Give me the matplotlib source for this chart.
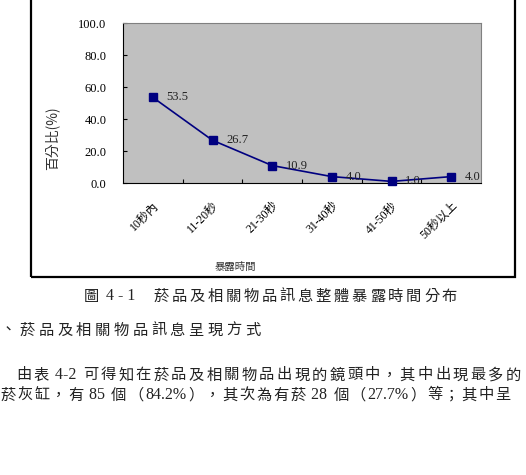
import matplotlib
matplotlib.use('Agg')

import matplotlib.pyplot as plt
from matplotlib.patches import Rectangle

CJK = ['Noto Sans CJK TC', 'DejaVu Sans']
NUM = ['Liberation Serif', 'Noto Sans CJK TC']

W, H = 526, 475

categories = ['10秒內', '11-20秒', '21-30秒', '31-40秒', '41-50秒', '50秒以上']
percent = [53.5, 26.7, 10.9, 4.0, 1.0, 4.0]
yticks = [0, 20, 40, 60, 80, 100]

caption = '圖 4 - 1　菸品及相關物品訊息整體暴露時間分布'
heading = '、菸品及相關物品訊息呈現方式'
body = ['由表 4-2 可得知在菸品及相關物品出現的鏡頭中，其中出現最多的',
        '菸灰缸，有 85 個（84.2%），其次為有菸 28 個（27.7%）等；其中呈']


def spaced_text(fig, x_px, y_px, s, gap=2.5, size=11):
    # scanned page has loose letter spacing, so lay out piece by piece
    r = fig.canvas.get_renderer()
    pieces = []
    buf = ''
    for ch in s:
        if ord(ch) < 128:
            buf += ch
        else:
            if buf:
                pieces.append(buf)
                buf = ''
            pieces.append(ch)
    if buf:
        pieces.append(buf)
    for p in pieces:
        if p == '　':
            x_px += 15
            continue
        fam = NUM if ord(p[0]) < 128 else CJK
        t = fig.text(x_px / W, 1 - y_px / H, p, ha='left', va='center',
                     family=fam, fontsize=size + (0.5 if fam is NUM else 0),
                     color='#222222')
        if p.strip() == '':
            x_px += 4.5 * len(p)
        else:
            x_px += t.get_window_extent(r).width + gap


fig = plt.figure(figsize=(W / 100, H / 100), dpi=100)
fig.patch.set_facecolor('white')

# outer frame around the chart
fig.patches.append(Rectangle((31 / W, 1 - 277 / H), (515 - 31) / W, 0.7,
                             transform=fig.transFigure, fill=False,
                             edgecolor='black', linewidth=1.6))

ax = fig.add_axes([123 / W, 1 - 183 / H, (481 - 123) / W, (183 - 23) / H])
ax.set_facecolor('#c0c0c0')
x = list(range(len(categories)))
ax.plot(x, percent, color='#000080', linewidth=1.2, marker='s',
        markersize=5.5, markerfacecolor='#000080', markeredgecolor='#000080',
        clip_on=False, zorder=3)
for xi, v in zip(x, percent):
    ax.annotate('%.1f' % v, (xi, v), xytext=(10, 0), textcoords='offset points',
                va='center', ha='left', fontsize=9, family=NUM, color='#222222')

ax.set_xlim(-0.5, len(categories) - 0.5)
ax.set_ylim(0, 100)
ax.set_yticks(yticks)
ax.set_yticklabels(['%.1f' % t for t in yticks], family=NUM, fontsize=9)
ax.set_xticks([i + 0.5 for i in x[:-1]])
ax.set_xticklabels([])
ax.set_xticks(x, minor=True)
ax.set_xticklabels(categories, minor=True, rotation=45, ha='right',
                   rotation_mode='anchor', family=NUM, fontsize=8.5)
ax.tick_params(axis='x', which='minor', length=0, pad=12)
ax.tick_params(axis='x', which='major', direction='in', length=3)
ax.tick_params(axis='y', direction='in', length=3, pad=12)
for s in ['top', 'right']:
    ax.spines[s].set_color('#808080')
for s in ['left', 'bottom']:
    ax.spines[s].set_color('black')

fig.text(52 / W, 1 - 138 / H, '百分比(%)', rotation=90, ha='center', va='center',
         family=CJK, fontsize=10, color='#333333')
fig.text(235 / W, 1 - 267 / H, '暴露時間', ha='center', va='center',
         family=CJK, fontsize=7.5, color='#333333')

spaced_text(fig, 84, 296, caption, gap=2.8)
spaced_text(fig, 1, 330, heading, gap=3.5)
spaced_text(fig, 16, 375, body[0], gap=2.35)
spaced_text(fig, 0, 395, body[1], gap=1.8)

fig.savefig('out.png', dpi=100)
